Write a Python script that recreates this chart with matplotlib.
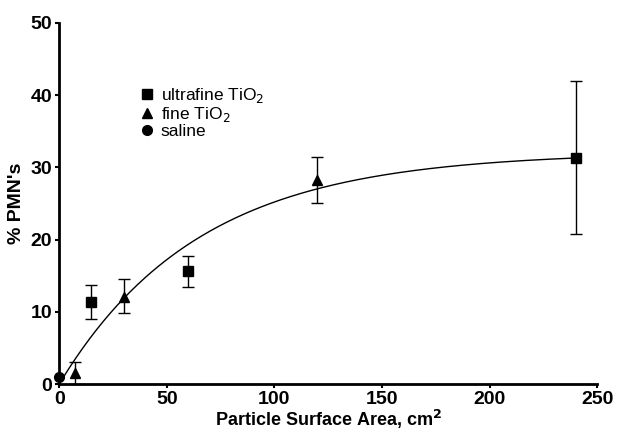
import numpy as np
import matplotlib.pyplot as plt
from matplotlib.lines import Line2D

plt.rcParams['font.family'] = ['Liberation Sans', 'DejaVu Sans']

# ultrafine TiO2
uf_x = [15, 60, 240]
uf_y = [11.3, 15.6, 31.3]
uf_lo = [2.3, 2.2, 10.5]
uf_hi = [2.4, 2.2, 10.7]

# fine TiO2
f_x = [7.5, 30, 120]
f_y = [1.5, 12.0, 28.2]
f_lo = [1.5, 2.2, 3.2]
f_hi = [1.6, 2.5, 3.3]

# saline
s_x = [0]
s_y = [1.0]

# fitted saturation curve y = A * (1 - exp(-x / k))
fit_a = 32.1
fit_k = 65.0


def main():
    fig = plt.figure(figsize=(6.36, 4.4), dpi=100)
    ax = fig.add_axes([0.093, 0.127, 0.846, 0.821])

    xs = np.linspace(1.5, 240, 300)
    ax.plot(xs, fit_a * (1 - np.exp(-xs / fit_k)), color='black', lw=1.0)

    ax.errorbar(uf_x, uf_y, yerr=[uf_lo, uf_hi], fmt='s', color='black',
                ms=7, capsize=4, elinewidth=1, capthick=1, clip_on=False)
    ax.errorbar(f_x, f_y, yerr=[f_lo, f_hi], fmt='^', color='black',
                ms=7.5, capsize=4, elinewidth=1, capthick=1, clip_on=False)
    ax.plot(s_x, s_y, 'o', color='black', ms=7, clip_on=False)

    ax.set_xlim(0, 250)
    ax.set_ylim(0, 50)
    ax.set_xticks([0, 50, 100, 150, 200, 250])
    ax.set_yticks([0, 10, 20, 30, 40, 50])
    for side in ['top', 'right']:
        ax.spines[side].set_visible(False)
    for side in ['left', 'bottom']:
        ax.spines[side].set_linewidth(2)
    ax.tick_params(direction='out', length=3, width=1.5, labelsize=14, pad=2)
    for lab in ax.get_xticklabels() + ax.get_yticklabels():
        lab.set_fontweight('bold')

    ax.set_xlabel('Particle Surface Area, cm$^\\mathbf{2}$', fontsize=13,
                  fontweight='bold', labelpad=0)
    ax.set_ylabel("% PMN's", fontsize=14, fontweight='bold', labelpad=4)

    handles = [
        Line2D([], [], marker='s', color='black', ls='none', ms=7),
        Line2D([], [], marker='^', color='black', ls='none', ms=7),
        Line2D([], [], marker='o', color='black', ls='none', ms=7),
    ]
    labels = ['ultrafine TiO$_2$', 'fine TiO$_2$', 'saline']
    ax.legend(handles, labels, loc='upper left',
              bbox_to_anchor=(0.147, 0.825), frameon=False, fontsize=12.5,
              handletextpad=0.3, labelspacing=0.0, handlelength=1.0,
              borderaxespad=0, borderpad=0)

    fig.savefig('out.png', dpi=100)


if __name__ == '__main__':
    main()
